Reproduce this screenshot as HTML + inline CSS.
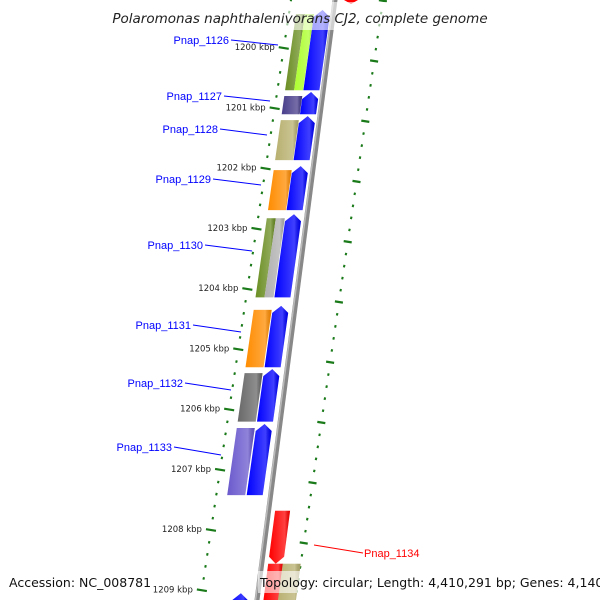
<!DOCTYPE html>
<html><head><meta charset="utf-8"><style>
html,body{margin:0;padding:0;background:#fff;overflow:hidden;width:600px;height:600px}
svg{display:block;overflow:hidden;font-family:"DejaVu Sans","Liberation Sans",sans-serif}
</style></head><body>
<svg id="map" width="600" height="600" viewBox="0 0 600 600">
<defs>
<linearGradient id="shade" x1="0" x2="1" y1="0" y2="0">
<stop offset="0" stop-color="#fff" stop-opacity="0"/><stop offset="0.75" stop-color="#fff" stop-opacity="0.25"/><stop offset="1" stop-color="#000" stop-opacity="0.1"/>
</linearGradient>
<clipPath id="frame"><rect x="0" y="0" width="600" height="600"/></clipPath>
</defs>
<g clip-path="url(#frame)">
<g id="ticks"></g>
<g id="backbone"></g>
<g id="genes"></g>
<g id="labels"></g>
<rect x="0" y="2" width="600" height="28" fill="#fff" fill-opacity="0.6"/>
<text x="300" y="23" text-anchor="middle" font-size="13.5" font-style="italic" fill="#222">Polaromonas naphthalenivorans CJ2, complete genome</text>
<text x="9" y="587" font-size="12.5" fill="#111">Accession: NC_008781</text>
<rect x="258" y="571" width="336" height="22" fill="#fff" fill-opacity="0.6"/>
<text x="260" y="587" font-size="12.5" fill="#111">Topology: circular; Length: 4,410,291 bp; Genes: 4,140</text>
</g>
</svg>
<script>
const NS="http://www.w3.org/2000/svg";
// data
const tickKbp=[1200,1201,1202,1203,1204,1205,1206,1207,1208,1209];
const geneNames=["Pnap_1126","Pnap_1127","Pnap_1128","Pnap_1129","Pnap_1130","Pnap_1131","Pnap_1132","Pnap_1133","Pnap_1134","Pnap_1135","Pnap_1136"];
const geneStart=[1199.37,1200.73,1201.13,1201.96,1202.76,1204.28,1205.33,1206.24,1207.68,1208.56,1209.05];
const geneEnd=[1200.70,1201.10,1201.86,1202.69,1204.14,1205.30,1206.20,1207.42,1208.56,1209.30,1209.40];
const geneStrand=[1,1,1,1,1,1,1,1,-1,-1,1];
const cogColorA=["#6b8e23","#483d8b","#b8b070","#ff8c00","#6b8e23","#ff8c00","#696969","#6a5acd",null,"#b8b070",null];
const cogColorB=["#adff2f",null,null,null,"#b0b0b0",null,null,null,null,null,null];
const geneLabeled=[1,1,1,1,1,1,1,1,1,0,0];
// label layout (leader line start/end), not data
const labelLayout=[[231,40,278,45],[224,96,270,101],[220,129,267,135],[213,179,261,185],[205,245,252,251],[193,325,241,332],[185,383,231,390],[174,447,221,455],[314,545,363,553]];

function yOf(k){return 48+(k-1200)*60.25;}
function bb(y){return 335-0.13*y;}
function fwdGene(y){return 324-0.14*y;}
function fwdCog(y){return 307-0.143*y;}
function revGene(y){return bb(y)+14;}
function revCog(y){return bb(y)+30;}
function leftTick(y){return 291-0.151*y;}
function rightTick(y){return 383-0.146*y;}

function el(tag,attrs,parent){const e=document.createElementNS(NS,tag);for(const k in attrs)e.setAttribute(k,attrs[k]);parent.appendChild(e);return e;}

const bg=document.getElementById('backbone');
const bl=el('line',{x1:bb(-5),y1:-5,x2:bb(605),y2:605,stroke:'#888','stroke-width':5},bg);


const bl2=el('line',{x1:bb(-5)-1.5,y1:-5,x2:bb(605)-1.5,y2:605,stroke:'#bbb','stroke-width':1.5},bg);



const tg=document.getElementById('ticks');
for(let k=1199;k<=1210.001;k+=0.2){
  const y=yOf(k);
  const major=Math.abs(k-Math.round(k))<0.01;
  const x=leftTick(y);
  const t=el('line',{x1:x-(major?5:1),y1:y-(major?0.8:0),x2:x+(major?5:1),y2:y+(major?0.8:0.5),stroke:'#1a7a1a','stroke-width':major?2.2:2.5},tg);
  
  
  const y2=y+13;
  const x2=rightTick(y2);
  const t2=el('line',{x1:x2-(major?4:1),y1:y2-(major?0.6:0),x2:x2+(major?4:1),y2:y2+(major?0.6:0.5),stroke:'#1a7a1a','stroke-width':major?2.2:2.5},tg);
  
  
}
tickKbp.forEach(k=>{
  const y=yOf(k);
  const tx=el('text',{x:leftTick(y)-9,y:y+2,'text-anchor':'end','font-size':8.5,fill:'#222'},tg);
  tx.textContent=k+' kbp';
  
  
});

const gg=document.getElementById('genes');
function band(fn,y1,y2,w,fill,dir){
  const h=7;
  let pts;
  const L=(y)=>fn(y)-w/2, R=(y)=>fn(y)+w/2;
  if(dir===1){pts=[[L(y1+h),y1+h],[fn(y1),y1],[R(y1+h),y1+h],[R(y2),y2],[L(y2),y2]];}
  else if(dir===-1){pts=[[L(y1),y1],[R(y1),y1],[R(y2-h),y2-h],[fn(y2),y2],[L(y2-h),y2-h]];}
  else{pts=[[L(y1),y1],[R(y1),y1],[R(y2),y2],[L(y2),y2]];}
  const ps=pts.map(q=>q[0].toFixed(1)+','+q[1].toFixed(1)).join(' ');
  const p=el('polygon',{points:ps,fill:fill},gg);
  const s=el('polygon',{points:ps,fill:'url(#shade)'},gg);
  
  
  return p;
}
geneNames.forEach((n,i)=>{
  const y1=yOf(geneStart[i]),y2=yOf(geneEnd[i]);
  const fwd=geneStrand[i]>0;
  const a=band(fwd?fwdGene:revGene,y1,y2,fwd?16:15,fwd?'#0000ff':'#ff0000',fwd?1:-1);
  
  
  if(cogColorA[i]){
    const cf=fwd?fwdCog:revCog;
    if(cogColorB[i]){
      const c1=band(y=>cf(y)-4.5,y1+4,y2,9,cogColorA[i],0);
      
      
      const c2=band(y=>cf(y)+4.5,y1+4,y2,9,cogColorB[i],0);
      
      
    }else{
      const c=band(cf,y1+(fwd?4:0),y2,18,cogColorA[i],0);
      
      
    }
  }
});
const rt=el('polygon',{points:'344,0 358,0 351,4',fill:'#ff0000'},gg);



const lg=document.getElementById('labels');
let li=0;
geneNames.forEach((n,i)=>{
  if(!geneLabeled[i])return;
  const L=labelLayout[li++];
  const fwd=geneStrand[i]>0;
  const col=fwd?'#0000ff':'#ff0000';
  const ln=el('line',{x1:L[0],y1:L[1],x2:L[2],y2:L[3],stroke:col,'stroke-width':1},lg);
  
  
  const t=el('text',{x:fwd?L[0]-2:L[2]+1,y:(fwd?L[1]:L[3])+4,'text-anchor':fwd?'end':'start','font-size':11,'font-family':'"Liberation Sans",sans-serif',fill:col},lg);
  t.textContent=n;
  
  
});
</script>
</body></html>
